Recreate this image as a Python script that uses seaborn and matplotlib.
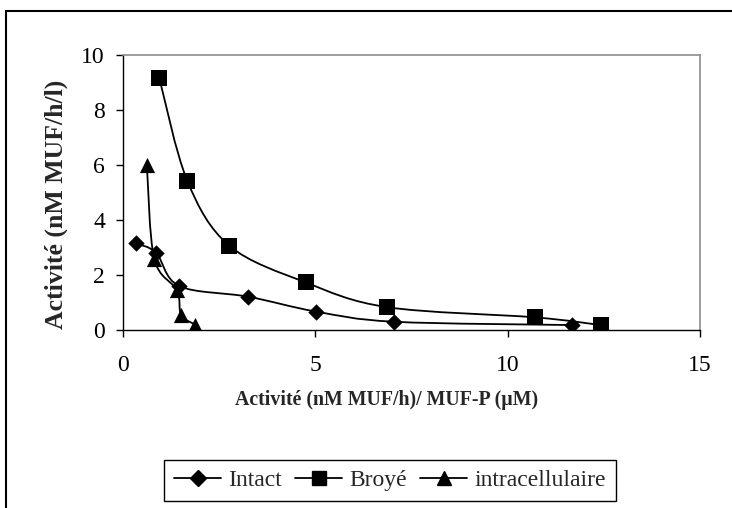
import numpy as np
import pandas as pd
import matplotlib
matplotlib.use("Agg")
import matplotlib.pyplot as plt
import seaborn as sns
from matplotlib.path import Path
from matplotlib.patches import PathPatch
from matplotlib.lines import Line2D

# ---- data ----
intact_x = [0.33, 0.86, 1.46, 3.26, 5.02, 7.05, 11.66]
intact_y = [3.15, 2.81, 1.60, 1.21, 0.67, 0.30, 0.18]
broye_x = [0.94, 1.67, 2.76, 4.75, 6.87, 10.71, 12.42]
broye_y = [9.18, 5.43, 3.07, 1.73, 0.83, 0.46, 0.18]
intra_x = [0.62, 0.81, 1.40, 1.51, 1.87]
intra_y = [6.00, 2.60, 1.45, 0.55, 0.20]
series_names = ["Intact", "Broyé", "intracellulaire"]
x_ticks = [0, 5, 10, 15]
y_ticks = [0, 2, 4, 6, 8, 10]
x_label = "Activité (nM MUF/h)/ MUF-P (µM)"
y_label = "Activité (nM MUF/h/l)"

sns.set_theme(style="white")
plt.rcParams["font.family"] = ["Liberation Serif", "DejaVu Serif"]

fig = plt.figure(figsize=(7.32, 5.08), dpi=100)
ax = fig.add_axes([123/732, 1-330/508, (700-123)/732, (330-55)/508])


def smooth_path(xs, ys):
    pts = np.column_stack([xs, ys]).astype(float)
    n = len(pts)
    verts = [pts[0]]
    codes = [Path.MOVETO]
    for i in range(n - 1):
        p0 = pts[i - 1] if i > 0 else pts[i]
        p1 = pts[i]
        p2 = pts[i + 1]
        p3 = pts[i + 2] if i + 2 < n else pts[i + 1]
        c1 = p1 + (p2 - p0) / 6.0
        c2 = p2 - (p3 - p1) / 6.0
        verts += [c1, c2, p2]
        codes += [Path.CURVE4] * 3
    return Path(verts, codes)


markers = {"Intact": ("D", 70), "Broyé": ("s", 125), "intracellulaire": ("^", 120)}
data = {"Intact": (intact_x, intact_y), "Broyé": (broye_x, broye_y),
        "intracellulaire": (intra_x, intra_y)}

for name in series_names:
    xs, ys = data[name]
    ax.add_patch(PathPatch(smooth_path(xs, ys), facecolor="none",
                           edgecolor="black", lw=1.3, zorder=2))
    df = pd.DataFrame({"x": xs, "y": ys})
    m, s = markers[name]
    sns.scatterplot(data=df, x="x", y="y", marker=m, s=s, color="black",
                    edgecolor="black", linewidth=0, ax=ax, zorder=3, legend=False)

ax.set_xlim(0, 15)
ax.set_ylim(0, 10)
ax.set_xticks(x_ticks)
ax.set_yticks(y_ticks)
ax.tick_params(axis="both", direction="out", length=5, width=1, color="black",
               labelsize=17, labelcolor="black", left=True, bottom=True)
ax.tick_params(axis="x", pad=13)
ax.tick_params(axis="y", pad=8)
for side in ["left", "bottom"]:
    ax.spines[side].set_color("black")
    ax.spines[side].set_linewidth(1)
for side in ["top", "right"]:
    ax.spines[side].set_color("#8c8c8c")
    ax.spines[side].set_linewidth(1.2)
ax.set_xlabel(x_label, fontsize=14.3, fontweight="bold", va="center")
ax.xaxis.set_label_coords((387-123)/577, (330-400)/275)
ax.set_ylabel(y_label, fontsize=18.5, fontweight="bold", va="center")
ax.yaxis.set_label_coords((56-123)/577, (330-204)/275)

handles = [Line2D([], [], color="black", lw=1.3, marker=markers[n][0],
                  markersize=8 if markers[n][0] == "D" else 10) for n in series_names]
leg = fig.legend(handles, series_names, loc="center", bbox_to_anchor=(390/732, 1-480.5/508),
                 ncol=3, fontsize=17, frameon=True, fancybox=False, framealpha=1,
                 edgecolor="black", handlelength=2.0, columnspacing=0.55,
                 handletextpad=0.3, borderpad=0.42, borderaxespad=0)
leg.get_frame().set_linewidth(1)

# outer chart-area border
fig.add_artist(Line2D([6/732, 6/732], [0, 1-11/508], color="black", lw=1.5,
                      transform=fig.transFigure))
fig.add_artist(Line2D([6/732, 1], [1-11/508, 1-11/508], color="black", lw=1.5,
                      transform=fig.transFigure))

fig.savefig("out.png", dpi=100)
